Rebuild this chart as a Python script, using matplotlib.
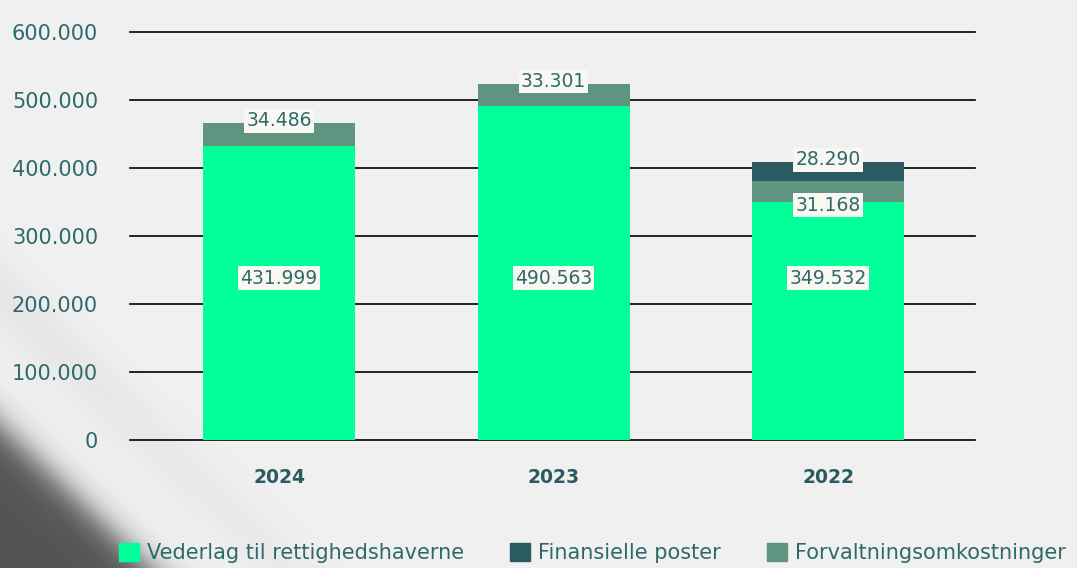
import numpy as np
import matplotlib
matplotlib.use("Agg")
import matplotlib.pyplot as plt
from matplotlib.patches import Patch

# data (values as printed on the bars)
years = ["2024", "2023", "2022"]
vederlag = [431999, 490563, 349532]
finansielle = [0, 0, 28290]
forvaltning = [34486, 33301, 31168]

series_names = ["Vederlag til rettighedshaverne", "Finansielle poster",
                "Forvaltningsomkostninger"]
yticks = [0, 100000, 200000, 300000, 400000, 500000, 600000]

c_green = "#00ff99"
c_fin = "#2a5b60"
c_forv = "#5f9580"
c_text = "#2e6a6b"

plt.rcParams["font.family"] = ["DejaVu Sans"]

fig = plt.figure(figsize=(10.77, 5.68), dpi=100)

# background: light grey with a dark shadow in the lower left corner
bg = fig.add_axes([0, 0, 1, 1], zorder=-10)
W, H = 1077, 568
xx, yy = np.meshgrid(np.arange(W), np.arange(H))
nrm = np.hypot(138, 145)
d = (xx * 138 - (yy - 425) * 145) / nrm
shade = 1 / (1 + np.exp(d / 9.0))
band = np.exp(-((d - 95) / 30.0) ** 2) * np.clip(1 - xx / 700, 0, 1)
base = 0.94 - 0.04 * band
img = base * (1 - shade) + 0.33 * shade
bg.imshow(img, cmap="gray", vmin=0, vmax=1, aspect="auto", interpolation="bilinear")
bg.axis("off")

ax = fig.add_axes([130 / W, 1 - 440 / H, 845 / W, 408 / H])
ax.set_facecolor("none")

x = np.arange(len(years))
width = 0.554
vederlag = np.array(vederlag)
finansielle = np.array(finansielle)
forvaltning = np.array(forvaltning)

ax.bar(x, vederlag, width, color=c_green, zorder=3)
ax.bar(x, forvaltning, width, bottom=vederlag, color=c_forv, zorder=3)
ax.bar(x, finansielle, width, bottom=vederlag + forvaltning, color=c_fin, zorder=3)

box = dict(boxstyle="square,pad=0.12", fc="#f8f7f2", ec="none")
lab_kw = dict(ha="center", va="center", fontsize=13.5, color=c_text, bbox=box, zorder=5)

def fmt(v):
    return f"{v:,}".replace(",", ".")

green_label_y = 238000
for i in range(len(years)):
    ax.text(x[i], green_label_y, fmt(vederlag[i]), **lab_kw)
    top_forv = vederlag[i] + forvaltning[i]
    if finansielle[i] > 0:
        ax.text(x[i], vederlag[i] - 4000, fmt(forvaltning[i]), **lab_kw)
        ax.text(x[i], top_forv + finansielle[i] + 3000, fmt(finansielle[i]), **lab_kw)
    else:
        ax.text(x[i], top_forv + 3000, fmt(forvaltning[i]), **lab_kw)

ax.set_xlim(-0.543, 2.535)
ax.set_ylim(0, 600000)
ax.set_yticks(yticks)
ax.set_yticklabels([fmt(v) for v in yticks])
ax.set_xticks(x)
ax.set_xticklabels(years, fontweight="bold")
ax.tick_params(axis="y", length=0, pad=23, labelsize=15, labelcolor=c_text)
ax.tick_params(axis="x", length=0, pad=20, labelsize=13.5, labelcolor=c_fin)
for s in ax.spines.values():
    s.set_visible(False)
ax.yaxis.grid(True, color="black", linewidth=1.2, zorder=0)
for gl in ax.get_ygridlines():
    gl.set_clip_on(False)
ax.set_axisbelow(True)

handles = [Patch(color=c_green), Patch(color=c_fin), Patch(color=c_forv)]
fig.legend(handles, series_names, loc="center left", bbox_to_anchor=(119 / W, 1 - 553 / H),
           ncol=3, frameon=False, fontsize=15, labelcolor=c_text, borderpad=0,
           borderaxespad=0, handlelength=0.97, handleheight=0.97, handletextpad=0.38,
           columnspacing=2.2)

fig.savefig("out.png", dpi=100)
